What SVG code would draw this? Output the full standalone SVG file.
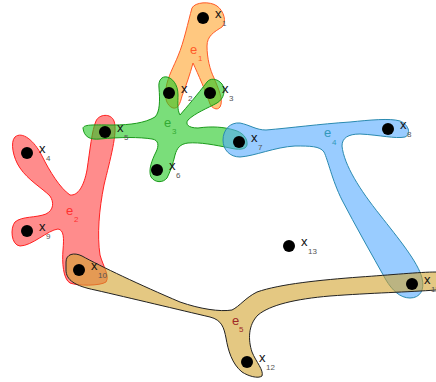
<svg xmlns="http://www.w3.org/2000/svg" width="436" height="382" viewBox="0 0 436 382">
<style>
.he{stroke-width:1;stroke-linejoin:round}
.e1{fill:#ffa32b;fill-opacity:0.6;stroke:#ff5a28}
.e2{fill:#ff3f3f;fill-opacity:0.6;stroke:#ff2020}
.e3{fill:#22c822;fill-opacity:0.6;stroke:#1a9a1a}
.e4{fill:#55aaff;fill-opacity:0.6;stroke:#2a8ab0}
.e5{fill:#d2a32f;fill-opacity:0.6;stroke:#222}
.v{fill:#000}
.lx{font-family:"Liberation Sans",Arial,sans-serif;font-size:13px;fill:#111}
.ls{font-family:"Liberation Sans",Arial,sans-serif;font-size:8px;fill:#555}
.le{font-family:"Liberation Sans",Arial,sans-serif;font-size:13px}
.lse{font-family:"Liberation Sans",Arial,sans-serif;font-size:8px}
</style>
<rect width="436" height="382" fill="#fff"/>
<g id="hyperedges">
<g id="e1">
<path class="he e1" d="M192,8 C195,2 210,1 217,6 C224,11 227,22 222,27 C214,32 207,36 207,46 C207,58 210,70 214,78 C218,88 224,100 220,107 C217,111 212,108 210,104 C206,92 198,74 193,63 C190,74 186,86 182,96 C180,104 178,109 173,108 C167,106 164,98 166,88 C168,76 174,66 178,56 C184,42 188,22 192,8 Z"/>
</g>
<g id="e2">
<path class="he e2" d="M15,137 C22,131 34,140 42,156 C50,172 60,188 70,195 C78,196 84,186 87,170 C90,150 92,130 96,121 C99,114 111,113 114,121 C118,132 110,160 104,185 C99,210 97,235 100,255 C103,266 110,276 106,282 C100,286 78,286 70,283 C63,279 62,262 63,250 C64,238 64,230 58,229 C48,230 32,246 20,246 C11,245 10,228 15,222 C22,216 36,218 46,214 C54,210 54,202 50,196 C42,188 28,180 20,168 C13,158 10,142 15,137 Z"/>
</g>
<g id="e3">
<path class="he e3" d="M83,128 C84,124 96,125 113,125 C130,125 145,123 155,117 C160,112 160,100 159,88 C158,80 162,76 167,77 C172,78 178,84 178,95 C178,102 177,110 180,115 C186,108 198,94 207,82 C210,78 217,78 222,84 C226,90 224,99 217,103 C208,108 195,113 188,120 C185,124 188,128 198,128 C212,126 224,127 234,130 C242,132 248,138 247,145 C246,150 238,150 230,148 C215,145 200,142 188,143 C180,144 177,148 175,155 C173,164 170,172 167,178 C163,183 155,183 151,177 C148,170 152,160 156,152 C159,146 159,140 152,139 C140,137 120,137 100,139 C90,140 84,137 83,128 Z"/>
</g>
<g id="e4">
<path class="he e4" d="M223,140 C223,130 230,122 240,123 C250,125 256,130 266,130 C290,128 320,124 350,122 C370,120 390,118 400,121 C408,124 412,134 405,137 C395,139 380,135 360,134 C348,134 342,138 342,146 C344,165 360,190 380,215 C398,238 418,262 422,278 C425,290 420,298 410,298 C400,298 392,290 386,280 C372,255 355,225 342,200 C332,180 328,160 324,152 C320,146 310,146 295,146 C275,147 255,156 240,157 C230,157 223,150 223,140 Z"/>
</g>
<g id="e5">
<path class="he e5" d="M66,262 C66,254 74,252 82,256 C100,266 140,285 180,302 C200,309 220,312 232,310 C240,306 245,298 257,292 C280,284 320,280 360,277 C390,275 420,272 436,272 C444,272 446,290 436,290 C410,292 370,293 330,296 C295,299 270,305 258,315 C248,325 248,340 252,352 C256,362 264,370 262,376 C258,379 248,376 242,372 C232,364 228,350 226,338 C224,328 222,320 210,317 C180,310 130,298 95,290 C75,286 66,280 66,270 Z"/>
</g>
</g>
<g id="x1"><circle class="v" cx="203" cy="18" r="6"/><text class="lx" x="215" y="18">x</text><text class="ls" x="222" y="26">1</text></g>
<g id="x2"><circle class="v" cx="169" cy="93" r="6"/><text class="lx" x="181" y="93">x</text><text class="ls" x="188" y="101">2</text></g>
<g id="x3"><circle class="v" cx="210" cy="93" r="6"/><text class="lx" x="222" y="93">x</text><text class="ls" x="229" y="101">3</text></g>
<g id="x4"><circle class="v" cx="27" cy="153" r="6"/><text class="lx" x="39" y="153">x</text><text class="ls" x="46" y="161">4</text></g>
<g id="x5"><circle class="v" cx="105" cy="132" r="6"/><text class="lx" x="117" y="132">x</text><text class="ls" x="124" y="140">5</text></g>
<g id="x6"><circle class="v" cx="157" cy="170" r="6"/><text class="lx" x="169" y="170">x</text><text class="ls" x="176" y="178">6</text></g>
<g id="x7"><circle class="v" cx="239" cy="142" r="6"/><text class="lx" x="251" y="142">x</text><text class="ls" x="258" y="150">7</text></g>
<g id="x8"><circle class="v" cx="388" cy="129" r="6"/><text class="lx" x="400" y="129">x</text><text class="ls" x="407" y="137">8</text></g>
<g id="x9"><circle class="v" cx="27" cy="231" r="6"/><text class="lx" x="39" y="231">x</text><text class="ls" x="46" y="239">9</text></g>
<g id="x10"><circle class="v" cx="79" cy="270" r="6"/><text class="lx" x="91" y="270">x</text><text class="ls" x="98" y="278">10</text></g>
<g id="x11"><circle class="v" cx="412" cy="284" r="6"/><text class="lx" x="424" y="284">x</text><text class="ls" x="431" y="292">11</text></g>
<g id="x12"><circle class="v" cx="247" cy="362" r="6"/><text class="lx" x="259" y="362">x</text><text class="ls" x="266" y="370">12</text></g>
<g id="x13"><circle class="v" cx="289" cy="246" r="6"/><text class="lx" x="301" y="246">x</text><text class="ls" x="308" y="254">13</text></g>
<g id="edge-labels">
<text class="le" x="190" y="54" fill="#ff5a28">e</text><text class="lse" x="198" y="61" fill="#ff5a28">1</text>
<text class="le" x="66" y="215" fill="#ff3030">e</text><text class="lse" x="74" y="222" fill="#ff3030">2</text>
<text class="le" x="164" y="127" fill="#33aa33">e</text><text class="lse" x="172" y="134" fill="#33aa33">3</text>
<text class="le" x="324" y="137" fill="#3399bb">e</text><text class="lse" x="332" y="145" fill="#3399bb">4</text>
<text class="le" x="232" y="325" fill="#a02828">e</text><text class="lse" x="239" y="332" fill="#a02828">5</text>
</g>
</svg>
